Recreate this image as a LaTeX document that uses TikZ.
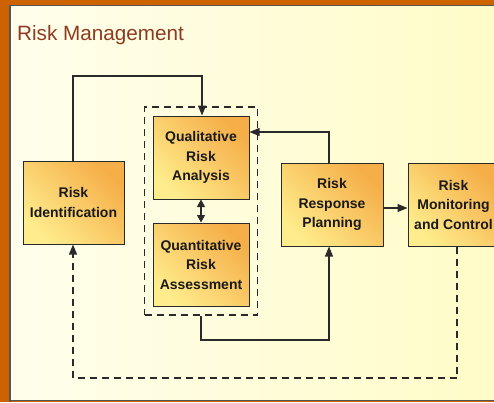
\documentclass[tikz,border=0pt]{standalone}
\usepackage{fontspec}
\setmainfont{Liberation Sans}
\usetikzlibrary{arrows.meta,fit}
\definecolor{frameor}{HTML}{CC6200}
\definecolor{bgA}{HTML}{FFFEEC}
\definecolor{bgB}{HTML}{FFFCC8}
\definecolor{boxor}{HTML}{F5AE48}
\definecolor{boxye}{HTML}{FFEC8C}
\definecolor{titlec}{HTML}{8E3B20}
\definecolor{linec}{HTML}{2A2A2A}
\tikzset{
  procbox/.style={draw=linec, line width=1pt, shading=axis, top color=boxor, bottom color=boxye,
    shading angle=-45, minimum height=83pt, align=center, inner sep=2pt,
    font=\fontsize{14}{19.5}\selectfont\bfseries, text=black!90},
  conn/.style={draw=linec, line width=1.1pt},
  arr/.style={conn, -{Triangle[length=10pt,width=8pt]}},
  darr/.style={conn, {Triangle[length=7.5pt,width=8pt]}-{Triangle[length=7.5pt,width=8pt]}},
  dsh/.style={dash pattern=on 7pt off 5pt},
}
\begin{document}
\begin{tikzpicture}[x=1pt,y=-1pt]
\useasboundingbox (0,0) rectangle (494,402);
% frame and background
\fill[frameor] (0,0) rectangle (494,402);
\shade[left color=bgA, right color=bgB] (10,5) rectangle (494,400);
\draw[linec!80, line width=1.5pt] (10,402) -- (10,5.5) -- (494,5.5);
\draw[linec!80, line width=1.5pt] (10,400.5) -- (494,400.5);
% title
\node[anchor=base west, inner sep=0pt, text=titlec, font=\fontsize{20.7}{24}\selectfont] (title) at (17,40) {Risk Management};
% boxes
\node[procbox, minimum width=101pt] (ident) at (73.5,202.5) {Risk\\Identification};
\node[procbox, minimum width=96pt] (qual) at (201,157.5) {Qualitative\\Risk\\Analysis};
\node[procbox, minimum width=96pt] (quant) at (201,264.5) {Quantitative\\Risk\\Assessment};
\node[procbox, minimum width=102pt] (resp) at (332,204.5) {Risk\\Response\\Planning};
\node[procbox, minimum width=91pt] (mon) at (453.5,204.5) {Risk\\Monitoring\\and Control};
\node[draw=linec, line width=1.1pt, dsh, inner xsep=8pt, inner ysep=8.5pt, fit=(qual)(quant)] (grp) {};
% bend points
\coordinate (b1) at (329,132);
\coordinate (b2) at (73,76);
\coordinate (b3) at (202,76);
\coordinate (b4) at (201,340);
\coordinate (b5) at (329,340);
\coordinate (b6) at (457,378);
\coordinate (b7) at (73,378);
% connectors
\draw[arr] (ident.north -| b2) -- (b2) -- (b3) -- (b3 |- qual.north);
\draw[darr] (qual.south) -- (quant.north);
\draw[arr] (resp.north -| b1) -- (b1) -- (b1 -| qual.east);
\draw[arr] (resp.east |- 0,208) -- (mon.west |- 0,208);
\draw[arr] (grp.south -| b4) -- (b4) -- (b5) -- (b5 |- resp.south);
\draw[arr, dsh] (mon.south -| b6) -- (b6) -- (b7) -- (b7 |- ident.south);
\end{tikzpicture}
\end{document}
